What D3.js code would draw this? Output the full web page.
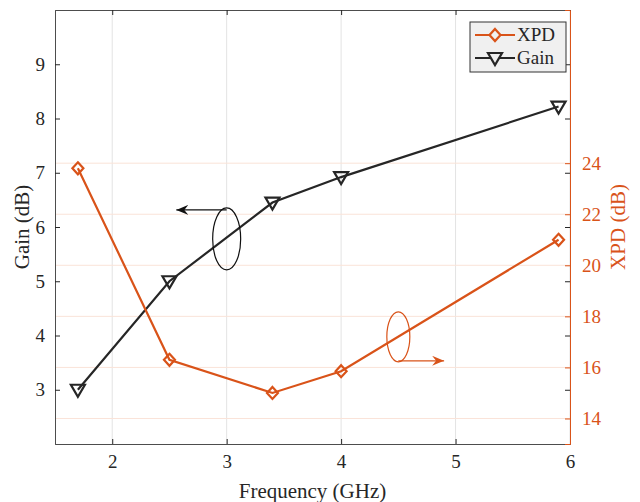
<!DOCTYPE html>
<html><head><meta charset="utf-8">
<script src="https://cdn.jsdelivr.net/npm/d3@7"></script>
<style>
html,body{margin:0;padding:0;background:#fff;}
svg{display:block;font-family:"Liberation Serif","Times New Roman",serif;}
</style></head>
<body><svg id="c" width="640" height="502"></svg>
<script>
const freq = [1.7, 2.5, 3.4, 4.0, 5.9];
const gain = [3.0, 5.0, 6.45, 6.92, 8.22];
const xpd = [23.8, 16.3, 15.0, 15.85, 21.0];
const xTicks = [2, 3, 4, 5, 6];
const gainTicks = [3, 4, 5, 6, 7, 8, 9];
const xpdTicks = [14, 16, 18, 20, 22, 24];
const seriesNames = ["XPD", "Gain"];

const W = 640, H = 502;
const m = {l: 55, r: 70, t: 10, b: 58};
const svg = d3.select("#c");
const orange = "#D95319", dark = "#262626", axisCol = "#4d4d4d";
const FONT = "Liberation Serif";

const x = d3.scaleLinear().domain([1.5, 6]).range([m.l, W - m.r]);
const yL = d3.scaleLinear().domain([2, 10]).range([H - m.b, m.t]);
const yR = d3.scaleLinear().domain([13, 30]).range([H - m.b, m.t]);

// grids
svg.append("g").selectAll("line").data(xTicks).join("line")
  .attr("x1", d => x(d)).attr("x2", d => x(d)).attr("y1", m.t).attr("y2", H - m.b)
  .attr("stroke", "#e3e3e3").attr("stroke-width", 1);
svg.append("g").selectAll("line").data(xpdTicks).join("line")
  .attr("x1", m.l).attr("x2", W - m.r).attr("y1", d => yR(d)).attr("y2", d => yR(d))
  .attr("stroke", "#fae3d8").attr("stroke-width", 1);

// axes
const fs = 19;
const gx = svg.append("g").attr("transform", `translate(0,${H - m.b})`)
  .call(d3.axisBottom(x).tickValues(xTicks).tickSize(-5).tickPadding(11).tickFormat(d3.format("d")));
const gxt = svg.append("g").attr("transform", `translate(0,${m.t})`)
  .call(d3.axisTop(x).tickValues(xTicks).tickSize(-5).tickFormat(""));
const gl = svg.append("g").attr("transform", `translate(${m.l},0)`)
  .call(d3.axisLeft(yL).tickValues(gainTicks).tickSize(-5).tickPadding(10).tickFormat(d3.format("d")));
const glr = svg.append("g").attr("transform", `translate(${W - m.r},0)`)
  .call(d3.axisRight(yL).tickValues(gainTicks).tickSize(-5).tickFormat(""));
const gr = svg.append("g").attr("transform", `translate(${W - m.r},0)`)
  .call(d3.axisRight(yR).tickValues(xpdTicks).tickSize(-5).tickPadding(12).tickFormat(d3.format("d")));

[gx, gxt, gl, glr, gr].forEach(g => g.attr("font-family", FONT).attr("font-size", fs));
[gx, gxt, gl, glr].forEach(g => {
  g.select(".domain").attr("stroke", axisCol);
  g.selectAll(".tick line").attr("stroke", dark);
  g.selectAll("text").attr("fill", dark);
});
glr.select(".domain").remove();
gr.select(".domain").attr("stroke", orange);
gr.selectAll(".tick line").attr("stroke", orange);
gr.selectAll("text").attr("fill", orange);

// labels
svg.append("text").attr("x", (m.l + W - m.r) / 2).attr("y", 498).attr("text-anchor", "middle")
  .attr("font-size", 21).attr("fill", dark).text("Frequency (GHz)");
svg.append("text").attr("transform", `translate(29,${(m.t + H - m.b) / 2}) rotate(-90)`)
  .attr("text-anchor", "middle").attr("font-size", 21).attr("fill", dark).text("Gain (dB)");
svg.append("text").attr("transform", `translate(625,${(m.t + H - m.b) / 2}) rotate(-90)`)
  .attr("text-anchor", "middle").attr("font-size", 21).attr("fill", orange).text("XPD (dB)");

// lines
const gainPts = freq.map((f, i) => [x(f), yL(gain[i])]);
const xpdPts = freq.map((f, i) => [x(f), yR(xpd[i])]);
const line = d3.line();
svg.append("path").attr("d", line(gainPts)).attr("fill", "none").attr("stroke", dark).attr("stroke-width", 2.2);
svg.append("path").attr("d", line(xpdPts)).attr("fill", "none").attr("stroke", orange).attr("stroke-width", 2.2);

const diamond = (cx, cy) => `M${cx},${cy - 6}L${cx + 5.5},${cy}L${cx},${cy + 6}L${cx - 5.5},${cy}Z`;
const tri = (cx, cy) => `M${cx - 7},${cy - 5}L${cx + 7},${cy - 5}L${cx},${cy + 7}Z`;
svg.append("g").selectAll("path").data(gainPts).join("path")
  .attr("d", d => tri(d[0], d[1])).attr("fill", "none").attr("stroke", dark).attr("stroke-width", 2.2);
svg.append("g").selectAll("path").data(xpdPts).join("path")
  .attr("d", d => diamond(d[0], d[1])).attr("fill", "none").attr("stroke", orange).attr("stroke-width", 2.2);

// annotations
const defs = svg.append("defs");
[["arrK", "#111"], ["arrO", orange]].forEach(([id, c]) => {
  defs.append("marker").attr("id", id).attr("viewBox", "0 0 12 10").attr("refX", 12).attr("refY", 5)
    .attr("markerWidth", 12).attr("markerHeight", 10).attr("markerUnits", "userSpaceOnUse").attr("orient", "auto")
    .append("path").attr("d", "M0,0L12,5L0,10L4,5Z").attr("fill", c);
});
const ek = {cx: x(3.0), cy: yL(5.78), rx: 14, ry: 31};
svg.append("ellipse").attr("cx", ek.cx).attr("cy", ek.cy).attr("rx", ek.rx).attr("ry", ek.ry)
  .attr("fill", "none").attr("stroke", "#111").attr("stroke-width", 1.2);
svg.append("line").attr("x1", ek.cx).attr("y1", ek.cy - ek.ry + 2).attr("x2", x(2.56)).attr("y2", ek.cy - ek.ry + 2)
  .attr("stroke", "#111").attr("stroke-width", 1.2).attr("marker-end", "url(#arrK)");
const eo = {cx: x(4.5), cy: yR(17.2), rx: 11.5, ry: 25};
svg.append("ellipse").attr("cx", eo.cx).attr("cy", eo.cy).attr("rx", eo.rx).attr("ry", eo.ry)
  .attr("fill", "none").attr("stroke", orange).attr("stroke-width", 1.2);
svg.append("line").attr("x1", eo.cx).attr("y1", eo.cy + eo.ry - 1).attr("x2", x(4.9)).attr("y2", eo.cy + eo.ry - 1)
  .attr("stroke", orange).attr("stroke-width", 1.2).attr("marker-end", "url(#arrO)");

// legend
const lg = svg.append("g").attr("transform", "translate(470,22)");
lg.append("rect").attr("x", 0).attr("y", 0).attr("width", 96).attr("height", 50)
  .attr("fill", "#f0f0f0").attr("stroke", "#333").attr("stroke-width", 1);
seriesNames.forEach((n, i) => {
  const yy = 13 + i * 23;
  const c = i === 0 ? orange : dark;
  lg.append("line").attr("x1", 5).attr("x2", 45).attr("y1", yy).attr("y2", yy).attr("stroke", c).attr("stroke-width", 2.2);
  lg.append("path").attr("d", i === 0 ? diamond(25, yy) : tri(25, yy)).attr("fill", "#f0f0f0").attr("stroke", c).attr("stroke-width", 2.2);
  lg.append("text").attr("x", 47).attr("y", yy + 6).attr("font-size", 19).attr("fill", dark).text(n);
});
</script></body></html>
